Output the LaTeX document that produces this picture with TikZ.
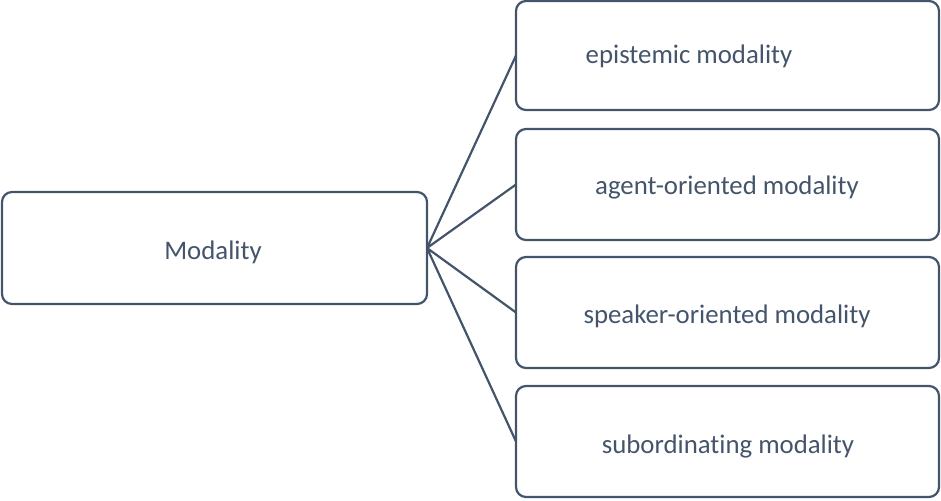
\documentclass[tikz,border=0pt]{standalone}
\usepackage{fontspec}
\setmainfont{Carlito}[Ligatures=NoCommon]
\definecolor{slate}{HTML}{44546A}
\begin{document}
\begin{tikzpicture}[x=1pt,y=-1pt,
  box/.style={draw=slate,line width=2.2pt,rounded corners=10pt},
  lbl/.style={text=slate,font=\fontsize{26.8}{32}\selectfont,anchor=base},
  link/.style={draw=slate,line width=2.2pt}]
  \useasboundingbox (0,0) rectangle (941,500);
  % boxes
  \draw[box] (2,192) rectangle (427,304);
  \draw[box] (516,1) rectangle (939,110);
  \draw[box] (516,129) rectangle (939,240);
  \draw[box] (516,257) rectangle (939,368);
  \draw[box] (516,386) rectangle (939,497);
  % anchor points
  \coordinate (root) at (427,248);
  \coordinate (c1) at (516,55.5);
  \coordinate (c2) at (516,184.5);
  \coordinate (c3) at (516,312.5);
  \coordinate (c4) at (516,441.5);
  % labels
  \node[lbl] (tRoot) at (213,259) {Modality};
  \node[lbl] (t1) at (689,64) {epistemic modality};
  \node[lbl] (t2) at (727,194) {agent-oriented modality};
  \node[lbl] (t3) at (727,323) {speaker-oriented modality};
  \node[lbl] (t4) at (728,453) {subordinating modality};
  % connectors
  \draw[link,line join=round] (c1) -- (root) -- (c2);
  \draw[link,line join=round] (c3) -- (root) -- (c4);
\end{tikzpicture}
\end{document}
